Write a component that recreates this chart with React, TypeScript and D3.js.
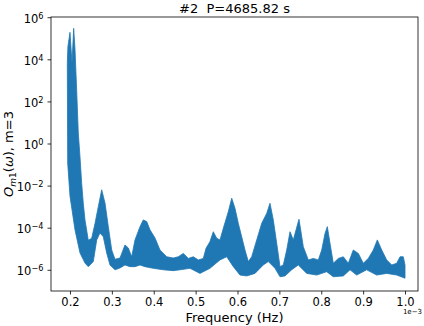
import { axisBottom, axisLeft, format, line, scaleLinear, scaleLog, select } from "d3";
import { useEffect, useRef } from "react";

const upperFreq = [
  0.1936, 0.195, 0.2, 0.2048, 0.2088, 0.2119, 0.216, 0.2198, 0.2239, 0.2279,
  0.2318, 0.2358, 0.2437, 0.2518, 0.2597, 0.2676, 0.2757, 0.2836, 0.2915,
  0.2996, 0.3075, 0.3194, 0.3313, 0.3392, 0.3473, 0.3552, 0.3672, 0.375,
  0.3832, 0.391, 0.403, 0.4149, 0.4309, 0.4467, 0.4586, 0.4706, 0.4825,
  0.4944, 0.5064, 0.5183, 0.5248, 0.5343, 0.5422, 0.5503, 0.5582, 0.5661,
  0.578, 0.5862, 0.594, 0.6019, 0.61, 0.6179, 0.6258, 0.6339, 0.6459, 0.6578,
  0.6697, 0.6776, 0.6855, 0.6936, 0.7015, 0.7094, 0.7175, 0.7254, 0.7333,
  0.7452, 0.7469, 0.7571, 0.7691, 0.781, 0.793, 0.8011, 0.809, 0.8145, 0.8209,
  0.8288, 0.8407, 0.8527, 0.8646, 0.8765, 0.8885, 0.9004, 0.9123, 0.9243,
  0.9339, 0.9444, 0.9563, 0.9683, 0.9802, 0.9881, 0.9959, 1.0,
];
const upperLog = [
  3.8, 4.6, 5.28, 3.82, 5.47, 4.5, 2.5, 0.5, -0.64, -1.9, -2.86, -3.63, -4.6,
  -4.5, -3.8, -3.0, -2.2, -2.83, -3.95, -5.06, -5.5, -5.44, -4.82, -4.96,
  -5.38, -4.58, -3.95, -3.63, -3.71, -4.1, -4.49, -5.06, -5.38, -5.44, -5.38,
  -5.22, -5.46, -5.38, -5.53, -5.46, -4.98, -4.66, -4.19, -4.5, -4.58, -4.03,
  -3.24, -2.6, -3.08, -3.79, -4.43, -5.06, -5.61, -5.38, -4.58, -3.79, -3.32,
  -2.84, -3.63, -4.74, -5.85, -5.77, -5.06, -4.19, -4.58, -3.71, -3.6, -4.9,
  -5.53, -5.46, -5.53, -5.06, -4.27, -3.95, -4.74, -5.69, -5.46, -5.38, -5.69,
  -5.06, -5.22, -5.69, -5.46, -5.06, -4.58, -5.06, -5.53, -5.77, -5.69, -5.38,
  -5.38, -5.77,
];
const lowerFreq = [
  0.1936, 0.1945, 0.2, 0.2119, 0.2239, 0.2358, 0.2437, 0.2556, 0.2638, 0.2716,
  0.2795, 0.2876, 0.2955, 0.3075, 0.3194, 0.3313, 0.3433, 0.3552, 0.3672,
  0.3791, 0.3989, 0.4228, 0.4467, 0.4627, 0.4866, 0.5104, 0.5343, 0.5582,
  0.5742, 0.59, 0.606, 0.622, 0.6418, 0.6616, 0.6736, 0.6896, 0.7015, 0.7134,
  0.7294, 0.7452, 0.7493, 0.7653, 0.7891, 0.813, 0.8288, 0.8527, 0.8687,
  0.8847, 0.9085, 0.9324, 0.9563, 0.9802, 1.0,
];
const lowerLog = [
  3.8, -0.93, -2.5, -4.1, -5.2, -5.68, -5.85, -5.61, -4.58, -4.25, -4.43, -5.2,
  -5.77, -6.0, -5.91, -5.77, -5.85, -5.85, -5.77, -5.85, -5.93, -6.0, -6.04,
  -6.0, -5.93, -6.17, -5.93, -5.53, -5.38, -5.85, -6.25, -6.29, -6.17, -5.77,
  -5.61, -5.93, -6.33, -6.29, -6.0, -5.77, -5.85, -6.17, -6.25, -6.09, -6.33,
  -6.29, -6.0, -6.25, -6.0, -6.25, -6.17, -6.25, -6.4,
];

const xTicks = [0.2, 0.3, 0.4, 0.5, 0.6, 0.7, 0.8, 0.9, 1.0];
const yTickExps = [-6, -4, -2, 0, 2, 4, 6];

const W = 424;
const H = 326;
const margin = { left: 51, right: 6, top: 17, bottom: 35 };
const FONT = "'DejaVu Sans', sans-serif";
const BLUE = "#1f77b4";

export default function App() {
  const svgRef = useRef<SVGSVGElement>(null);

  useEffect(() => {
    const svg = select(svgRef.current);
    const x0 = margin.left;
    const x1 = W - margin.right;
    const y0 = margin.top;
    const y1 = H - margin.bottom;

    const xScale = scaleLinear().domain([0.15463, 1.03104]).range([x0, x1]);
    const yScale = scaleLog()
      .domain([Math.pow(10, -7.007), Math.pow(10, 6.01)])
      .range([y1, y0]);

    const pts: [number, number][] = [
      ...upperFreq.map((f, i) => [f, upperLog[i]] as [number, number]),
      ...lowerFreq
        .map((f, i) => [f, lowerLog[i]] as [number, number])
        .reverse(),
    ];
    const band = line<[number, number]>()
      .x((d) => xScale(d[0]))
      .y((d) => yScale(Math.pow(10, d[1])));

    svg
      .select(".content")
      .selectAll(".band")
      .data([pts])
      .join("path")
      .attr("class", "band")
      .attr("fill", BLUE)
      .attr("stroke", BLUE)
      .attr("stroke-width", 0.8)
      .attr("stroke-linejoin", "round")
      .attr("d", (d) => band(d) + "Z");

    const xAxis = axisBottom(xScale)
      .tickValues(xTicks)
      .tickSize(3.5)
      .tickPadding(3)
      .tickFormat((d) => format(".1f")(d as number));
    const gx = svg
      .select(".x-axis")
      .attr("transform", `translate(0,${y1})`)
      .call(xAxis as any);
    gx.select(".domain").remove();
    gx.selectAll(".tick line").attr("stroke", "#000").attr("stroke-width", 0.8);
    gx.selectAll(".tick text")
      .attr("fill", "#000")
      .attr("font-family", FONT)
      .attr("font-size", "11.5px");

    const yAxis = axisLeft(yScale)
      .tickValues(yTickExps.map((e) => Math.pow(10, e)))
      .tickSize(3.5)
      .tickPadding(4)
      .tickFormat(() => "");
    const gy = svg
      .select(".y-axis")
      .attr("transform", `translate(${x0},0)`)
      .call(yAxis as any);
    gy.select(".domain").remove();
    gy.selectAll(".tick line").attr("stroke", "#000").attr("stroke-width", 0.8);
    gy.selectAll<SVGTextElement, number>(".tick text").each(function (_, i) {
      const t = select(this)
        .attr("fill", "#000")
        .attr("font-family", FONT)
        .attr("font-size", "11.5px")
        .attr("dy", "0.45em");
      t.text("10");
      const e = yTickExps[i];
      t.append("tspan")
        .attr("dy", "-0.5em")
        .attr("font-size", "8.2px")
        .text(e < 0 ? `\u2212${-e}` : `${e}`);
    });
  }, []);

  const cx = (margin.left + W - margin.right) / 2;
  const cy = (margin.top + H - margin.bottom) / 2;

  return (
    <svg
      ref={svgRef}
      width={W}
      height={H}
      style={{ position: "absolute", left: 0, top: 0, background: "#fff" }}
    >
      <defs>
        <clipPath id="plotClip">
          <rect
            x={margin.left}
            y={margin.top}
            width={W - margin.left - margin.right}
            height={H - margin.top - margin.bottom}
          />
        </clipPath>
      </defs>
      <g className="content" clipPath="url(#plotClip)" />
      <rect
        x={margin.left}
        y={margin.top}
        width={W - margin.left - margin.right}
        height={H - margin.top - margin.bottom}
        fill="none"
        stroke="#000"
        strokeWidth={0.8}
      />
      <g className="x-axis" />
      <g className="y-axis" />
      <text
        x={cx}
        y={12.5}
        textAnchor="middle"
        fontFamily={FONT}
        fontSize="13px"
        fill="#000"
      >
        #2{"\u00a0\u00a0"}P=4685.82 s
      </text>
      <text
        x={cx}
        y={321.5}
        textAnchor="middle"
        fontFamily={FONT}
        fontSize="13px"
        fill="#000"
      >
        Frequency (Hz)
      </text>
      <text
        x={422}
        y={314}
        textAnchor="end"
        fontFamily={FONT}
        fontSize="7px"
        fill="#000"
      >
        1e−3
      </text>
      <text
        transform={`translate(13,${cy}) rotate(-90)`}
        textAnchor="middle"
        fontFamily={FONT}
        fontSize="13px"
        fill="#000"
      >
        <tspan fontStyle="italic">O</tspan>
        <tspan fontSize="9px" dy="2.5">
          <tspan fontStyle="italic">m</tspan>1
        </tspan>
        <tspan dy="-2.5">(</tspan>
        <tspan fontStyle="italic">ω</tspan>
        <tspan>), m=3</tspan>
      </text>
    </svg>
  );
}
